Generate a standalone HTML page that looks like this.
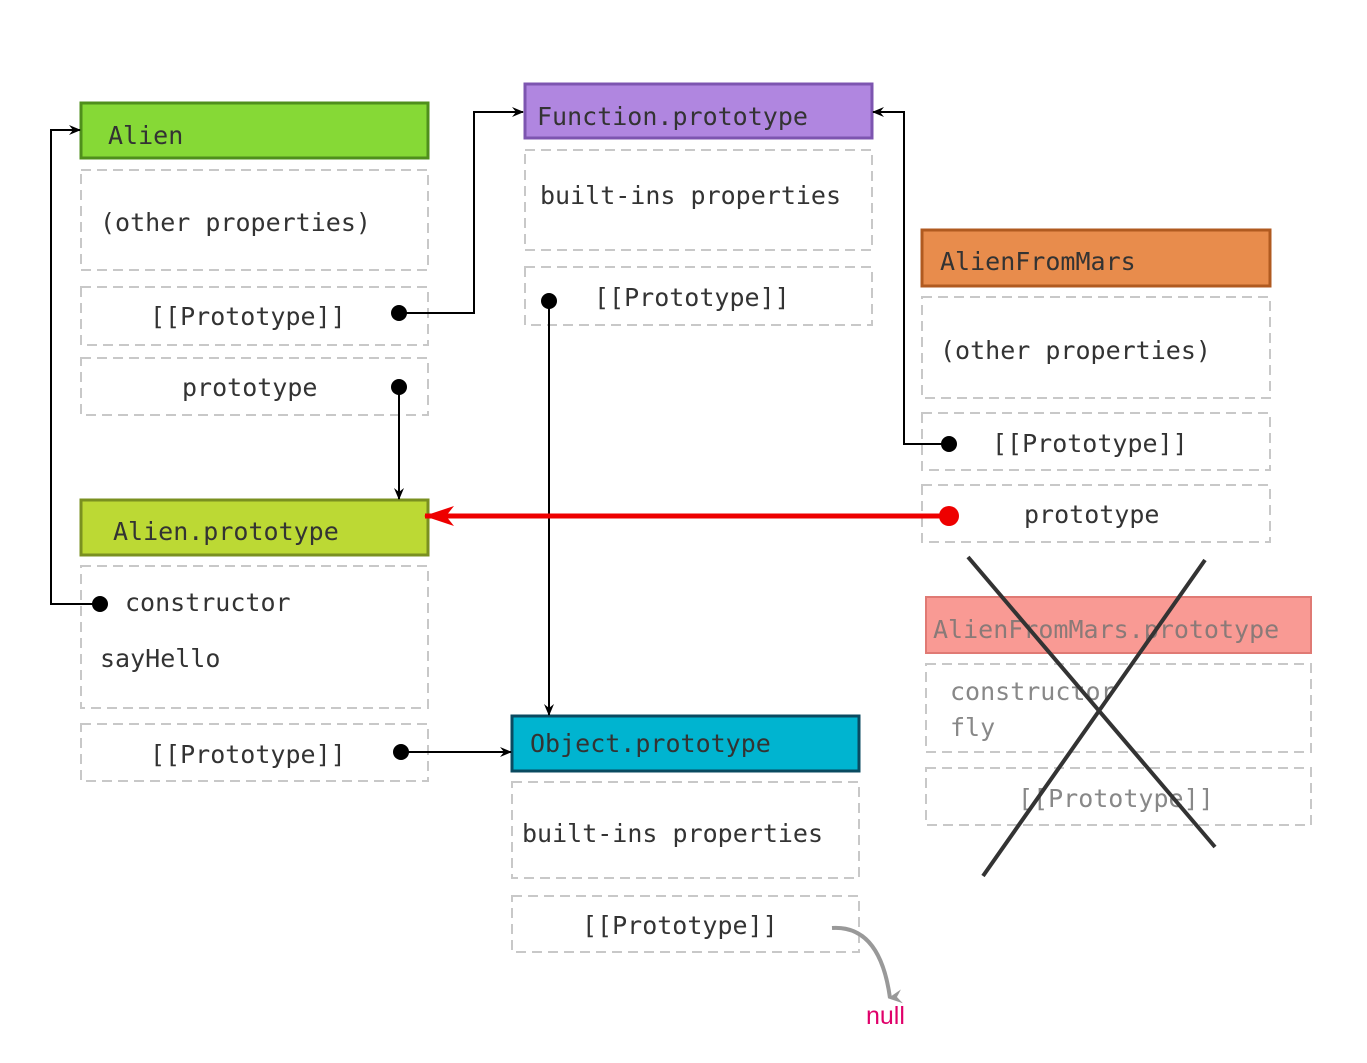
<!DOCTYPE html>
<html><head><meta charset="utf-8"><style>
html,body{margin:0;padding:0;background:#fff;width:1367px;height:1063px;overflow:hidden}
svg text{font-family:"DejaVu Sans Mono","Liberation Mono",monospace;font-size:25px;fill:#333}
</style></head><body>
<svg width="1367" height="1063" viewBox="0 0 1367 1063" xmlns="http://www.w3.org/2000/svg">
<defs>
<marker id="a" markerWidth="12" markerHeight="10" refX="11" refY="5" orient="auto" markerUnits="userSpaceOnUse"><path d="M0,0 L12,5 L0,10 L4,5 z" fill="#000"/></marker>
<marker id="r" markerWidth="30" markerHeight="20" refX="29" refY="10" orient="auto" markerUnits="userSpaceOnUse"><path d="M0,0 L30,10 L0,20 L8,10 z" fill="#e00"/></marker>
<marker id="g" markerWidth="14" markerHeight="14" refX="7" refY="12" orient="auto" markerUnits="userSpaceOnUse"><path d="M0,0 L7,14 L14,0 L7,5 z" fill="#999"/></marker>
</defs>
<g fill="none" stroke="#c8c8c8" stroke-width="2" stroke-dasharray="10,6">
<rect x="81" y="170" width="347" height="100"/><rect x="81" y="287" width="347" height="58"/><rect x="81" y="358" width="347" height="57"/>
<rect x="525" y="150" width="347" height="100"/><rect x="525" y="267" width="347" height="58"/>
<rect x="922" y="297" width="348" height="101"/><rect x="922" y="413" width="348" height="57"/><rect x="922" y="485" width="348" height="57"/>
<rect x="81" y="566" width="347" height="142"/><rect x="81" y="724" width="347" height="57"/>
<rect x="512" y="782" width="347" height="96"/><rect x="512" y="896" width="347" height="56"/>
<rect x="926" y="664" width="385" height="88"/><rect x="926" y="768" width="385" height="57"/>
</g>
<rect x="81" y="103" width="347" height="55" fill="#86d936" stroke="#4f8f1c" stroke-width="3"/>
<rect x="525" y="84" width="347" height="54" fill="#b086e0" stroke="#7d55b0" stroke-width="3"/>
<rect x="922" y="230" width="348" height="56" fill="#e88c4c" stroke="#b05a20" stroke-width="3"/>
<rect x="81" y="500" width="347" height="55" fill="#bcd934" stroke="#7a9020" stroke-width="3"/>
<rect x="512" y="716" width="347" height="55" fill="#00b4d0" stroke="#0a4a60" stroke-width="3"/>
<rect x="926" y="597" width="385" height="56" fill="#f99a94" stroke="#e07a74" stroke-width="2"/>
<text x="108" y="144">Alien</text>
<text x="100" y="231">(other properties)</text>
<text x="150" y="325">[[Prototype]]</text>
<text x="182" y="396">prototype</text>
<text x="537" y="125">Function.prototype</text>
<text x="540" y="204">built-ins properties</text>
<text x="594" y="306">[[Prototype]]</text>
<text x="940" y="270">AlienFromMars</text>
<text x="940" y="359">(other properties)</text>
<text x="992" y="452">[[Prototype]]</text>
<text x="1024" y="523">prototype</text>
<text x="113" y="540">Alien.prototype</text>
<text x="125" y="611">constructor</text>
<text x="100" y="667">sayHello</text>
<text x="150" y="763">[[Prototype]]</text>
<text x="530" y="752">Object.prototype</text>
<text x="522" y="842">built-ins properties</text>
<text x="582" y="934">[[Prototype]]</text>
<g style="fill:#7a7a7a"><text x="933" y="638" style="fill:#8a7a78">AlienFromMars.prototype</text>
<text x="950" y="700" style="fill:#888">constructor</text><text x="950" y="736" style="fill:#888">fly</text>
<text x="1018" y="807" style="fill:#888">[[Prototype]]</text></g>
<g fill="#000"><circle cx="399" cy="313" r="8"/><circle cx="399" cy="387" r="8"/><circle cx="100" cy="604" r="8"/><circle cx="549" cy="301" r="8"/><circle cx="949" cy="444" r="8"/><circle cx="401" cy="752" r="8"/></g>
<g fill="none" stroke="#000" stroke-width="2">
<path d="M399,313 H474 V112 H523" marker-end="url(#a)"/>
<path d="M399,387 V499" marker-end="url(#a)"/>
<path d="M100,604 H51 V130 H80" marker-end="url(#a)"/>
<path d="M549,301 V715" marker-end="url(#a)"/>
<path d="M949,444 H904 V112 H873" marker-end="url(#a)"/>
<path d="M401,752 H511" marker-end="url(#a)"/>
</g>
<path d="M949,516 H425" stroke="#e00" stroke-width="5" fill="none" marker-end="url(#r)"/>
<circle cx="949" cy="516" r="10" fill="#e00"/>
<path d="M832,928 Q880,925 890,998" stroke="#999" stroke-width="4" fill="none" marker-end="url(#g)"/>
<text x="866" y="1024" style="font-family:'Liberation Sans',sans-serif;font-size:25px;fill:#e0006a">null</text>
<g stroke="#333" stroke-width="4" fill="none"><path d="M968,557 L1215,847"/><path d="M1205,560 L983,876"/></g>
</svg>
</body></html>
